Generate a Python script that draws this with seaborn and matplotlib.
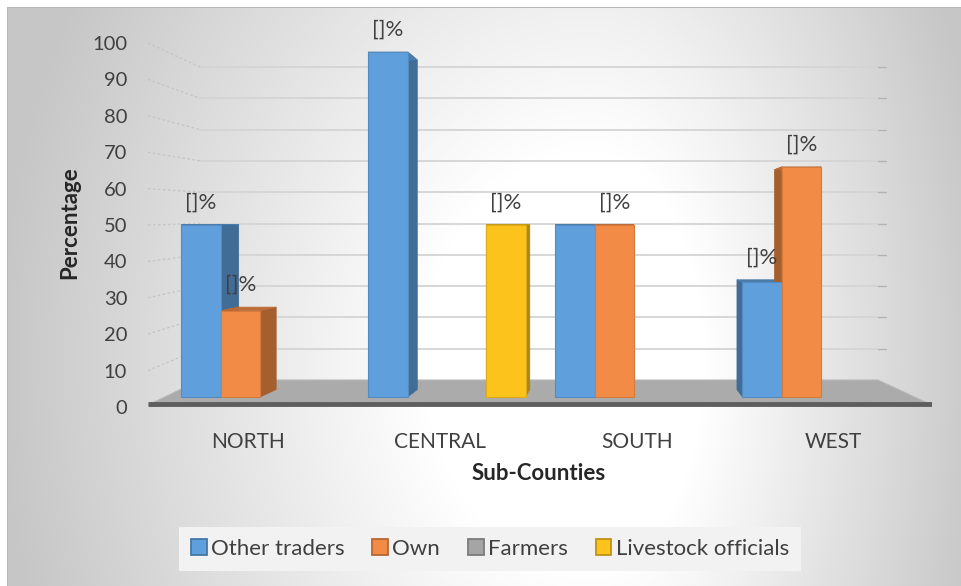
import numpy as np
import pandas as pd
import matplotlib
matplotlib.use("Agg")
import matplotlib.pyplot as plt
from matplotlib.patches import Polygon, Patch, Rectangle
from matplotlib.colors import to_rgb
import seaborn as sns

# ---- data -------------------------------------------------------------
regions = ["NORTH", "CENTRAL", "SOUTH", "WEST"]
series = ["Other traders", "Own", "Farmers", "Livestock officials"]
other_traders = [50, 100, 50, 33.3]
own = [25, 0, 50, 66.7]
farmers = [0, 0, 0, 0]
livestock_officials = [0, 50, 0, 0]
y_tick_values = [0, 10, 20, 30, 40, 50, 60, 70, 80, 90, 100]
data_label = "[]%"
unlabelled = [("SOUTH", "Other traders")]

colors = ["#5f9fdb", "#f28b45", "#a5a5a5", "#fcc31c"]

df = pd.DataFrame({
    "region": regions * 4,
    "series": [s for s in series for _ in regions],
    "value": other_traders + own + farmers + livestock_officials,
})

# ---- figure -----------------------------------------------------------
W, H, DPI = 962, 586, 100
sns.set_style("white")
plt.rcParams["font.family"] = ["Lato", "DejaVu Sans"]
TXT = "#404040"

fig = plt.figure(figsize=(W / DPI, H / DPI), dpi=DPI)
fig.patch.set_facecolor("white")

# radial grey background of the chart area
bg = fig.add_axes([0, 0, 1, 1], zorder=-10)
bg.set_axis_off()
yy, xx = np.mgrid[0:H, 0:W].astype(float)
cx, cy = 590.0, 360.0
rx = np.where(xx < cx, 560.0, 380.0)
d = np.sqrt(((xx - cx) / rx) ** 2 + ((yy - cy) / 700.0) ** 2)
t = np.clip((d - 0.3) / 0.75, 0, 1)
v = 1 - 0.22 * t
img = np.dstack([v, v, v])
img[(xx < 7) | (yy < 7)] = 1.0
img[7, 7:] = 0.72
img[7:, 7] = 0.72
bg.imshow(img, extent=(0, W, H, 0), aspect="auto", interpolation="bilinear")
bg.set_xlim(0, W)
bg.set_ylim(H, 0)

# plot area
L, R, T, B = 148, 932, 40, 410
ax = fig.add_axes([L / W, 1 - B / H, (R - L) / W, (B - T) / H])
ax.patch.set_alpha(0)

X0, XS = 260.0, 187.0      # pixel x of first category, category spacing
Y0, YS = 397.0, 3.45       # pixel y of value 0, pixels per unit


def px2x(px):
    return (px - X0) / XS


def py2y(py):
    return (Y0 - py) / YS


sns.barplot(data=df, x="region", y="value", hue="series", order=regions,
            hue_order=series, palette=colors, width=0.84, saturation=1,
            legend=False, ax=ax)
bars = [p for p in ax.patches if isinstance(p, Rectangle)]

ax.set_xlim(px2x(L), px2x(R))
ax.set_ylim(py2y(B), py2y(T))
for s in ax.spines.values():
    s.set_visible(False)

# back wall gridlines, side wall diagonals
for k in range(1, 11):
    yb = py2y(380 - 31.3 * k)
    ys = py2y(407 - 36.4 * k)
    ax.plot([px2x(200), px2x(878)], [yb, yb], color="#d4d4d4", lw=1.3, zorder=0.5)
    ax.plot([px2x(148), px2x(200)], [ys, yb], color="#c4c4c4", lw=0.9,
            ls=(0, (2, 2)), zorder=0.5)
    ax.plot([px2x(878), px2x(886)], [yb, yb], color="#b4b4b4", lw=1.0, zorder=0.5)

# floor
floor = Polygon([(px2x(148), py2y(405)), (px2x(932), py2y(405)),
                 (px2x(878), py2y(380)), (px2x(200), py2y(380))],
                closed=True, facecolor="#ababab", edgecolor="#b8b8b8", lw=0.8, zorder=1)
ax.add_patch(floor)
ax.plot([px2x(148), px2x(932)], [py2y(404), py2y(404)], color="#5e5e5e",
        lw=3.5, solid_capstyle="butt", zorder=1.5)

# 3-D depth for the columns
vpx, vpy = px2x(620), py2y(230)
f = 0.045


def back(x, y):
    return x + f * (vpx - x), y + f * (vpy - y)


def shade(c, k):
    r, g, b = to_rgb(c)
    return (r * k, g * k, b * k)


for p in bars:
    x0, w, h = p.get_x(), p.get_width(), p.get_height()
    x1 = x0 + w
    center = x0 + w / 2
    i = int(round(center))
    j = int(round((center - i + 0.42) / 0.21 - 0.5))
    p.set_zorder(3)
    if h <= 0:
        p.set_visible(False)
        continue
    col = colors[j]
    p.set_edgecolor(shade(col, 0.88))
    p.set_linewidth(0.8)
    b0, t0 = 0.0, h
    bx0b, bb = back(x0, b0)
    bx1b, _ = back(x1, b0)
    bx0t, bt = back(x0, t0)
    bx1t, _ = back(x1, t0)
    side = shade(col, 0.68)
    topc = shade(col, 0.78)
    for poly, c in [
        ([(x0, b0), (x0, t0), (bx0t, bt), (bx0b, bb)], side),
        ([(x1, b0), (x1, t0), (bx1t, bt), (bx1b, bb)], side),
        ([(x0, t0), (x1, t0), (bx1t, bt), (bx0t, bt)], topc),
    ]:
        ax.add_patch(Polygon(poly, closed=True, facecolor=c, edgecolor=c,
                             lw=0.5, zorder=2))
    if (regions[i], series[j]) in unlabelled:
        continue
    ax.annotate(data_label, xy=(center, max(t0, bt)), xytext=(0, 16),
                textcoords="offset points", ha="center", va="center",
                fontsize=16, color=TXT, zorder=5, annotation_clip=False)

# axis ticks and labels
ax.set_yticks([py2y(407 - 36.4 * k) for k in range(len(y_tick_values))],
              labels=[str(v) for v in y_tick_values])
ax.set_xticks([px2x(248), px2x(440), px2x(637), px2x(833)], labels=regions)
ax.tick_params(axis="y", length=0, pad=15, labelsize=14.5, labelcolor=TXT)
ax.tick_params(axis="x", length=0, pad=16, labelsize=15, labelcolor=TXT)
ax.set_xlabel("")
ax.set_ylabel("")

fig.text(70 / W, 1 - 223 / H, "Percentage", rotation=90, ha="center", va="center",
         fontsize=16, fontweight="bold", color="#262626")
fig.text(539 / W, 1 - 474 / H, "Sub-Counties", ha="center", va="center",
         fontsize=16, fontweight="bold", color="#262626")

handles = [Patch(facecolor=c, edgecolor=shade(c, 0.75), linewidth=1.3) for c in colors]
leg = fig.legend(handles, series, loc="center", bbox_to_anchor=(490 / W, 1 - 549 / H),
                 ncol=4, frameon=True, fontsize=16, handlelength=0.7,
                 handleheight=0.7, handletextpad=0.2, columnspacing=1.25,
                 borderpad=0.55, facecolor="#f2f2f2", edgecolor="none",
                 framealpha=1, fancybox=False)
for txt in leg.get_texts():
    txt.set_color(TXT)

fig.savefig("out.png", dpi=DPI)
